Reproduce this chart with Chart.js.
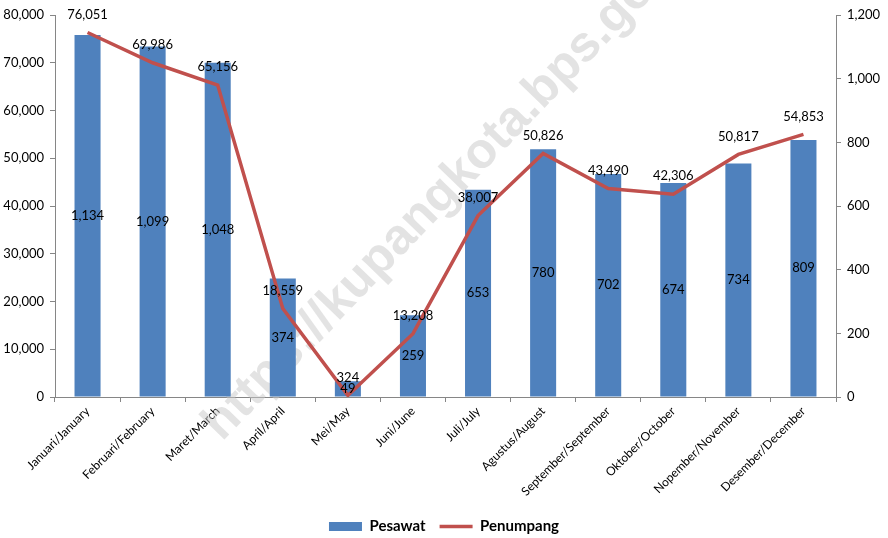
<!DOCTYPE html>
<html>
<head>
<meta charset="utf-8">
<script src="https://cdn.jsdelivr.net/npm/chart.js@4.4.1/dist/chart.umd.min.js"></script>
<style>
  html, body { margin: 0; padding: 0; background: #fff; }
  #wrap { width: 888px; height: 538px; position: relative; }
</style>
</head>
<body>
<div id="wrap"><canvas id="myChart"></canvas></div>
<script>
// data
var bulan = ["Januari/January", "Februari/February", "Maret/March", "April/April", "Mei/May", "Juni/June",
             "Juli/July", "Agustus/August", "September/September", "Oktober/October", "Nopember/November", "Desember/December"];
var pesawat = [75800, 73400, 70000, 24800, 3300, 17100, 43400, 51900, 46700, 44800, 48900, 53800];
var penumpang = [1145, 1050, 980, 278, 5, 199, 570, 765, 655, 637, 762, 825];
var labelPesawat = [1134, 1099, 1048, 374, 49, 259, 653, 780, 702, 674, 734, 809];
var labelPenumpang = [76051, 69986, 65156, 18559, 324, 13208, 38007, 50826, 43490, 42306, 50817, 54853];
var watermark = "https://kupangkota.bps.go.id";

var fmt = function (v) { return Number(v).toLocaleString('en-US'); };

// watermark under the marks
var tandaAir = {
  id: 'tandaAir',
  beforeDatasetsDraw: function (chart) {
    var ctx = chart.ctx;
    ctx.save();
    ctx.translate(222, 442);
    ctx.rotate(-46 * Math.PI / 180);
    ctx.font = 'bold 50px "Liberation Sans"';
    ctx.fillStyle = 'rgba(200,200,200,0.5)';
    ctx.textBaseline = 'alphabetic';
    ctx.fillText(watermark, 0, 0);
    ctx.restore();
  }
};

// data labels
var labelData = {
  id: 'labelData',
  afterDatasetsDraw: function (chart) {
    var ctx = chart.ctx;
    ctx.save();
    ctx.font = '13px Lato';
    ctx.fillStyle = '#000';
    ctx.textAlign = 'center';
    ctx.textBaseline = 'middle';
    var bars = chart.getDatasetMeta(0).data;
    bars.forEach(function (b, i) {
      ctx.fillText(fmt(labelPesawat[i]), b.x, (b.y + b.base) / 2);
    });
    var pts = chart.getDatasetMeta(1).data;
    pts.forEach(function (p, i) {
      ctx.fillText(fmt(labelPenumpang[i]), p.x, p.y - 18);
    });
    ctx.restore();
  }
};

var ctx1 = document.getElementById("myChart").getContext('2d');
var myChart = new Chart(ctx1, {
  type: 'bar',
  data: {
    labels: bulan,
    datasets: [{
      label: 'Pesawat',
      data: pesawat,
      backgroundColor: '#4F81BD',
      borderWidth: 0,
      yAxisID: 'y',
      order: 1,
      pointStyle: 'rect',
      categoryPercentage: 1,
      barPercentage: 0.4
    }, {
      type: 'line',
      label: 'Penumpang',
      data: penumpang,
      borderColor: '#C0504D',
      backgroundColor: '#C0504D',
      borderWidth: 3.5,
      pointRadius: 0,
      pointStyle: 'line',
      tension: 0,
      yAxisID: 'y1',
      order: 0
    }]
  },
  options: {
    responsive: true,
    maintainAspectRatio: false,
    animation: false,
    layout: { padding: { top: 15, left: 0, right: 0, bottom: -6 } },
    scales: {
      x: {
        offset: true,
        grid: { offset: true, drawOnChartArea: false, drawTicks: true, tickLength: 5, color: '#868686' },
        border: { color: '#868686', width: 1 },
        ticks: {
          minRotation: 45, maxRotation: 45, autoSkip: false,
          color: '#000', font: { family: 'Lato', size: 12 }, padding: 2
        },
        afterFit: function (s) { s.height = 538 + 6 - 397 - s.chart.legend.height; }
      },
      y: {
        position: 'left',
        min: 0, max: 80000,
        grid: { drawOnChartArea: false, tickLength: 5, color: '#868686' },
        border: { color: '#868686', width: 1 },
        ticks: {
          stepSize: 10000, color: '#000', padding: 6,
          font: { family: 'Lato', size: 13 },
          callback: function (v) { return fmt(v); }
        },
        afterFit: function (s) { s.width = 55; }
      },
      y1: {
        position: 'right',
        min: 0, max: 1200,
        grid: { drawOnChartArea: false, tickLength: 5, color: '#868686' },
        border: { color: '#868686', width: 1 },
        ticks: {
          stepSize: 200, color: '#000', padding: 6,
          font: { family: 'Lato', size: 13 },
          callback: function (v) { return fmt(v); }
        },
        afterFit: function (s) { s.width = 52; }
      }
    },
    plugins: {
      legend: {
        position: 'bottom',
        labels: {
          usePointStyle: true,
          pointStyleWidth: 33,
          boxHeight: 9,
          padding: 14,
          color: '#000',
          font: { family: 'Lato', size: 15, weight: 'bold' },
          sort: function (a, b) { return a.datasetIndex - b.datasetIndex; }
        }
      },
      tooltip: { enabled: false }
    }
  },
  plugins: [tandaAir, labelData]
});
</script>
</body>
</html>
